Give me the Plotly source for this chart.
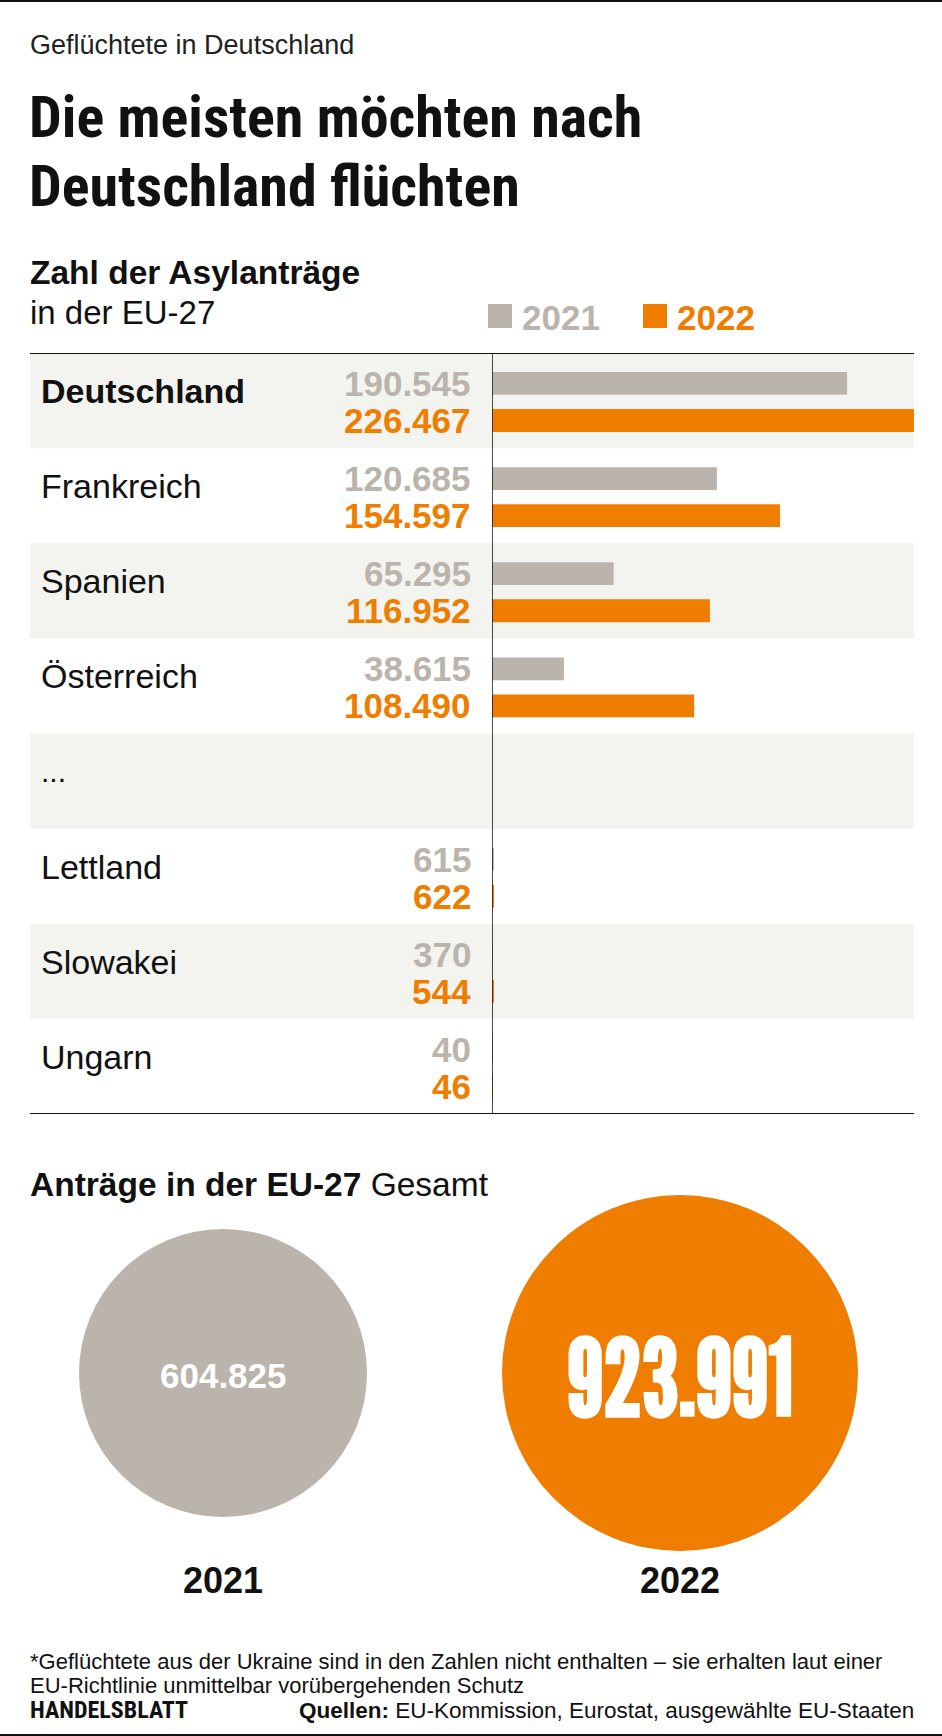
import plotly.graph_objects as go

# ---------------- data ----------------
countries = ["Deutschland", "Frankreich", "Spanien", "Österreich", "...", "Lettland", "Slowakei", "Ungarn"]
bold_country = ["Deutschland"]
v2021 = [190545, 120685, 65295, 38615, None, 615, 370, 40]
v2022 = [226467, 154597, 116952, 108490, None, 622, 544, 46]
years = ["2021", "2022"]
totals = [604825, 923991]

# ---------------- style ----------------
W, H = 942, 1736
GRAY = "#bab4ad"
ORANGE = "#ef7d00"
SHADE = "#f3f3ef"
INK = "#111111"
BODY = "Liberation Sans, Arial, sans-serif"
COND = "Roboto Condensed, Liberation Sans Narrow, sans-serif"
BIG = "League Gothic, Antonio, Oswald, Roboto Condensed, sans-serif"


def py(p):
    return 1 - p / H


def px(p):
    return p / W


def fmt(v):
    return f"{v:,}".replace(",", ".")


n = len(countries)
rows = list(range(n))
G_OFF, O_OFF, BAR_W = 0.32, 0.71, 0.24
TABLE_L, TABLE_R, TABLE_T, TABLE_B, VLINE = 30, 914, 353, 1114, 492
CIRCLE_MAX_D = 356
CAT_PX, FIRST_PX = 457, 223

fig = go.Figure()
fig.add_trace(go.Bar(x=v2021, y=[i + G_OFF for i in rows], orientation="h", width=BAR_W,
                     marker=dict(color=GRAY, line_width=0), name="2021",
                     xaxis="x", yaxis="y", hoverinfo="skip"))
fig.add_trace(go.Bar(x=v2022, y=[i + O_OFF for i in rows], orientation="h", width=BAR_W,
                     marker=dict(color=ORANGE, line_width=0), name="2022",
                     xaxis="x", yaxis="y", hoverinfo="skip"))
# plotly 'area' sizing: diameter = sqrt(2 * value / sizeref)
fig.add_trace(go.Scatter(x=years, y=[0] * len(years), mode="markers", cliponaxis=False,
                         marker=dict(size=totals, sizemode="area",
                                     sizeref=2 * max(totals) / CIRCLE_MAX_D ** 2,
                                     color=[GRAY, ORANGE], line_width=0, opacity=1),
                         xaxis="x2", yaxis="y2", hoverinfo="skip"))

vmax = max(v for v in v2022 if v is not None)
fig.update_layout(
    width=W, height=H, margin=dict(l=0, r=0, t=0, b=0),
    paper_bgcolor="white", plot_bgcolor="rgba(0,0,0,0)",
    showlegend=False, barmode="overlay",
    xaxis=dict(domain=[px(VLINE), px(TABLE_R)], range=[0, vmax], visible=False, fixedrange=True),
    yaxis=dict(domain=[py(TABLE_B), py(TABLE_T)], range=[n, 0], visible=False, fixedrange=True),
    xaxis2=dict(domain=[0, 1], anchor="y2", type="category",
                range=[-FIRST_PX / CAT_PX, (W - FIRST_PX) / CAT_PX],
                showgrid=False, zeroline=False, showline=False, ticks="",
                tickfont=dict(family=BODY, size=36, color=INK, weight="bold"), fixedrange=True),
    yaxis2=dict(domain=[py(1556), py(1190)], anchor="x2", range=[-1, 1], visible=False, fixedrange=True),
)

shapes = []
# page rules
shapes.append(dict(type="line", xref="paper", yref="paper", x0=0, x1=1, y0=py(1), y1=py(1),
                   line=dict(color=INK, width=2)))
shapes.append(dict(type="line", xref="paper", yref="paper", x0=0, x1=1, y0=py(1735), y1=py(1735),
                   line=dict(color=INK, width=2)))
# row shading
for i in rows:
    if i % 2 == 0:
        shapes.append(dict(type="rect", xref="paper", yref="y", x0=px(TABLE_L), x1=px(TABLE_R),
                           y0=i, y1=i + 1, fillcolor=SHADE, line_width=0, layer="below"))
# table lines
shapes.append(dict(type="line", xref="paper", yref="y", x0=px(TABLE_L), x1=px(TABLE_R), y0=0, y1=0,
                   line=dict(color=INK, width=2)))
shapes.append(dict(type="line", xref="paper", yref="y", x0=px(TABLE_L), x1=px(TABLE_R), y0=n, y1=n,
                   line=dict(color=INK, width=2)))
shapes.append(dict(type="line", xref="x", yref="y", x0=0, x1=0, y0=0, y1=n,
                   line=dict(color=INK, width=1.5)))
# legend squares
shapes.append(dict(type="rect", xref="paper", yref="paper", x0=px(488), x1=px(512), y0=py(328), y1=py(304),
                   fillcolor=GRAY, line_width=0))
shapes.append(dict(type="rect", xref="paper", yref="paper", x0=px(643), x1=px(667), y0=py(328), y1=py(304),
                   fillcolor=ORANGE, line_width=0))
fig.update_layout(shapes=shapes)

ann = []


def text(x, y, s, size, color=INK, family=BODY, anchor="left", weight="normal", xref="paper", yref="paper"):
    ann.append(dict(x=x, y=y, xref=xref, yref=yref, text=s, showarrow=False, xanchor=anchor,
                    yanchor="middle", align=anchor if anchor != "center" else "center",
                    font=dict(size=size, color=color, family=family, weight=weight)))


# header
text(px(28), py(45), "Geflüchtete in Deutschland", 27, color="#222222")
text(px(27), py(117), "Die meisten möchten nach", 58, family=COND, weight="bold")
text(px(27), py(186), "Deutschland flüchten", 58, family=COND, weight="bold")
text(px(28), py(272), "Zahl der Asylanträge", 33.5, weight="bold")
text(px(28), py(313), "in der EU-27", 33)
text(px(520), py(317), "2021", 35, color=GRAY, weight="bold")
text(px(675), py(317), "2022", 35, color=ORANGE, weight="bold")

# table labels
for i, c in enumerate(countries):
    text(px(39), i + 0.40, c, 34 if c != "..." else 30, weight="bold" if c in bold_country else "normal", yref="y")
    if v2021[i] is not None:
        text(px(473), i + G_OFF, fmt(v2021[i]), 35, color=GRAY, anchor="right", weight="bold", yref="y")
    if v2022[i] is not None:
        text(px(473), i + O_OFF, fmt(v2022[i]), 35, color=ORANGE, anchor="right", weight="bold", yref="y")

# totals
text(px(28), py(1184), "<b>Anträge in der EU-27</b> Gesamt", 33.5)
text(0, -0.015, fmt(totals[0]), 35, color="white", anchor="center", weight="bold", xref="x2", yref="y2")
text(1, -0.015, fmt(totals[1]), 106, color="white", anchor="center", family=BIG, weight="bold",
     xref="x2", yref="y2")

# footer
text(px(28), py(1661), "*Geflüchtete aus der Ukraine sind in den Zahlen nicht enthalten – sie erhalten laut einer", 22)
text(px(28), py(1685.5), "EU-Richtlinie unmittelbar vorübergehenden Schutz", 22)
text(px(28), py(1710), "HANDELSBLATT", 24, family=COND, weight="bold")
text(px(916), py(1710), "<b>Quellen:</b> EU-Kommission, Eurostat, ausgewählte EU-Staaten", 22.5, anchor="right")

fig.update_layout(annotations=ann)
fig.write_html("out.html", config={"displayModeBar": False},
               post_script="document.body.style.margin='0px';")
